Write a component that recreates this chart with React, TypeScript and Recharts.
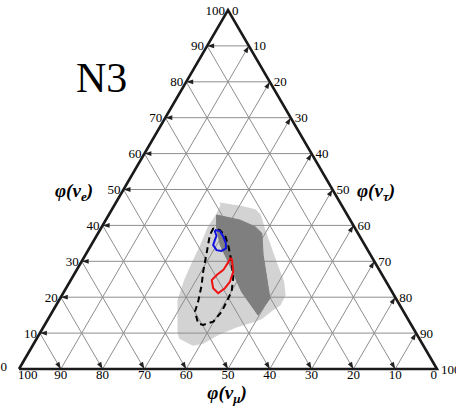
import React from 'react';
import { Customized, Scatter, ScatterChart, XAxis, YAxis } from 'recharts';

// every outline point is [φ(νe), φ(ντ)] in %, φ(νμ) = 100 − φ(νe) − φ(ντ)
const tickValues = [0, 10, 20, 30, 40, 50, 60, 70, 80, 90, 100];
const gridValues = [10, 20, 30, 40, 50, 60, 70, 80, 90];

const lightRegion = [
  [46.2, 25.0], [45.2, 30.7], [44.3, 34.3], [42.9, 36.2], [41.5, 37.3], [38.2, 39.8],
  [34.5, 42.8], [29.0, 47.2], [24.3, 51.1], [20.6, 53.3], [17.8, 53.5], [16.4, 52.3],
  [14.1, 51.0], [13.2, 49.5], [11.8, 46.2], [9.9, 43.1], [7.2, 40.4], [6.7, 38.3],
  [8.6, 34.2], [10.0, 33.1], [19.2, 28.5], [24.8, 27.3], [29.8, 26.7], [34.5, 26.3],
  [39.3, 25.6], [42.9, 25.8], [45.7, 25.6],
];

const darkRegion = [
  [42.9, 25.8], [41.5, 32.1], [39.6, 36.7], [37.8, 39.2], [31.8, 42.5], [22.5, 48.4],
  [19.7, 50.2], [15.0, 49.7], [21.5, 42.5], [29.9, 35.1], [34.5, 30.9], [39.2, 27.7],
];

const dashedContour = [
  [39.2, 26.9], [37.3, 27.0], [32.7, 28.6], [27.1, 30.5], [23.4, 32.0], [18.7, 33.5],
  [16.0, 34.1], [12.7, 36.5], [12.3, 37.9], [13.2, 39.9], [16.0, 40.5], [18.7, 40.3],
  [21.5, 40.1], [25.3, 38.6], [29.9, 35.9], [34.5, 32.8], [37.3, 30.6], [38.7, 28.7],
  [39.2, 27.3],
];

const blueContour = [
  [38.7, 27.5], [38.4, 28.9], [36.9, 30.4], [35.0, 32.0], [33.6, 32.7], [32.9, 32.0],
  [33.1, 30.7], [34.5, 29.2], [35.9, 28.9], [37.1, 28.7], [38.2, 27.8],
];

const redContour = [
  [30.8, 35.5], [27.1, 37.7], [24.3, 38.3], [22.5, 38.0], [21.1, 37.1], [22.5, 35.2],
  [24.8, 33.7], [26.2, 34.2], [27.6, 35.1], [29.9, 35.2], [30.8, 35.1],
];

type Pt = { x: number; y: number };

const toXY = (e: number, t: number): Pt => ({ x: t + e / 2, y: e });

const poly = (pts: number[][], close = false): Pt[] => {
  const out = pts.map(([e, t]) => toXY(e, t));
  if (close) out.push(out[0]);
  return out;
};

const gridLines: Pt[][] = [
  ...gridValues.map((k) => [toXY(k, 0), toXY(k, 100 - k)]),
  ...gridValues.map((k) => [toXY(0, k), toXY(100 - k, k)]),
  ...gridValues.map((k) => [toXY(0, 100 - k), toXY(100 - k, 0)]),
];

const frame: Pt[] = [toXY(0, 0), toXY(0, 100), toXY(100, 0), toXY(0, 0)];

const leftTicks = tickValues.map((v) => ({ ...toXY(v, 0), label: v }));
const rightTicks = tickValues.map((v) => ({ ...toXY(100 - v, v), label: v }));
const bottomTicks = tickValues.map((v) => ({ ...toXY(0, 100 - v), label: v }));

const SERIF = '"Liberation Serif", "DejaVu Serif", serif';

const noDot = () => <g />;

const arrow = (cx: number, cy: number, dx: number, dy: number) => {
  const len = 7;
  const half = 2.4;
  const bx = cx - dx * len;
  const by = cy - dy * len;
  const px = -dy * half;
  const py = dx * half;
  return (
    <path
      d={`M${cx},${cy}L${bx + px},${by + py}L${bx - px},${by - py}Z`}
      fill="#222"
    />
  );
};

const label = (x: number, y: number, anchor: 'start' | 'middle' | 'end', v: number) => (
  <text x={x} y={y} textAnchor={anchor} fontSize={13} fontFamily={SERIF} fill="#000">
    {v}
  </text>
);

const tickShape = (side: 'left' | 'right' | 'bottom') => (props: any) => {
  const { cx, cy, payload } = props;
  const v = payload.label;
  const inner = v > 0 && v < 100;
  let text;
  let head = null;
  if (side === 'left') {
    text = label(v === 0 ? cx - 12 : cx - 3, v === 0 ? cy + 2 : cy + 4.5, 'end', v);
    if (inner) head = arrow(cx, cy, -1, 0);
  } else if (side === 'right') {
    text = label(cx + 4, cy + 4.5, 'start', v);
    if (inner) head = arrow(cx, cy, 0.5, -0.866);
  } else {
    if (v === 100) text = label(cx - 1, cy + 9.5, 'start', v);
    else if (v === 0) text = label(cx, cy + 9.5, 'end', v);
    else text = label(cx, cy + 9.5, 'middle', v);
    if (inner) head = arrow(cx, cy, 0.5, 0.866);
  }
  return (
    <g>
      {head}
      {text}
    </g>
  );
};

const axisTitle = (x: number, y: number, sub: string, anchor: 'start' | 'middle') => (
  <text
    x={x}
    y={y}
    textAnchor={anchor}
    fontFamily={SERIF}
    fontWeight="bold"
    fontStyle="italic"
    fontSize={19}
    fill="#000"
  >
    φ(ν
    <tspan fontSize={13} dy={4}>
      {sub}
    </tspan>
    <tspan dy={-4}>)</tspan>
  </text>
);

const Titles = () => (
  <g>
    <text x={76} y={92} fontFamily={SERIF} fontSize={42} fill="#000">
      N3
    </text>
    {axisTitle(55, 197, 'e', 'start')}
    {axisTitle(357, 197, 'τ', 'start')}
    {axisTitle(227, 399, 'μ', 'middle')}
  </g>
);

export default function App() {
  return (
    <div style={{ position: 'absolute', left: 0, top: 0, background: '#fff' }}>
      <ScatterChart width={456} height={412} margin={{ top: 10, right: 19, bottom: 43, left: 19 }}>
        <XAxis type="number" dataKey="x" domain={[0, 100]} hide />
        <YAxis type="number" dataKey="y" domain={[0, 100]} hide />
        <Scatter
          data={poly(lightRegion, true)}
          shape={noDot}
          line={{ fill: '#d3d3d3', stroke: '#d3d3d3', strokeWidth: 1.5 }}
          isAnimationActive={false}
        />
        {gridLines.map((seg, i) => (
          <Scatter
            key={`g${i}`}
            data={seg}
            shape={noDot}
            line={{ stroke: '#8e8e8e', strokeWidth: 1 }}
            isAnimationActive={false}
          />
        ))}
        <Scatter
          data={poly(darkRegion, true)}
          shape={noDot}
          line={{ fill: '#7f7f7f', stroke: '#7f7f7f', strokeWidth: 1 }}
          isAnimationActive={false}
        />
        <Scatter
          data={poly(dashedContour, true)}
          shape={noDot}
          line={{ stroke: '#000', strokeWidth: 2, strokeDasharray: '6 4' }}
          isAnimationActive={false}
        />
        <Scatter
          data={poly(blueContour, true)}
          shape={noDot}
          line={{ stroke: '#1010e0', strokeWidth: 2 }}
          isAnimationActive={false}
        />
        <Scatter
          data={poly(redContour, true)}
          shape={noDot}
          line={{ stroke: '#ee1111', strokeWidth: 2 }}
          isAnimationActive={false}
        />
        <Scatter
          data={frame}
          shape={noDot}
          line={{ stroke: '#1a1a1a', strokeWidth: 2.6, strokeLinejoin: 'miter' }}
          isAnimationActive={false}
        />
        <Scatter data={leftTicks} shape={tickShape('left')} isAnimationActive={false} />
        <Scatter data={rightTicks} shape={tickShape('right')} isAnimationActive={false} />
        <Scatter data={bottomTicks} shape={tickShape('bottom')} isAnimationActive={false} />
        <Customized component={Titles} />
      </ScatterChart>
    </div>
  );
}
